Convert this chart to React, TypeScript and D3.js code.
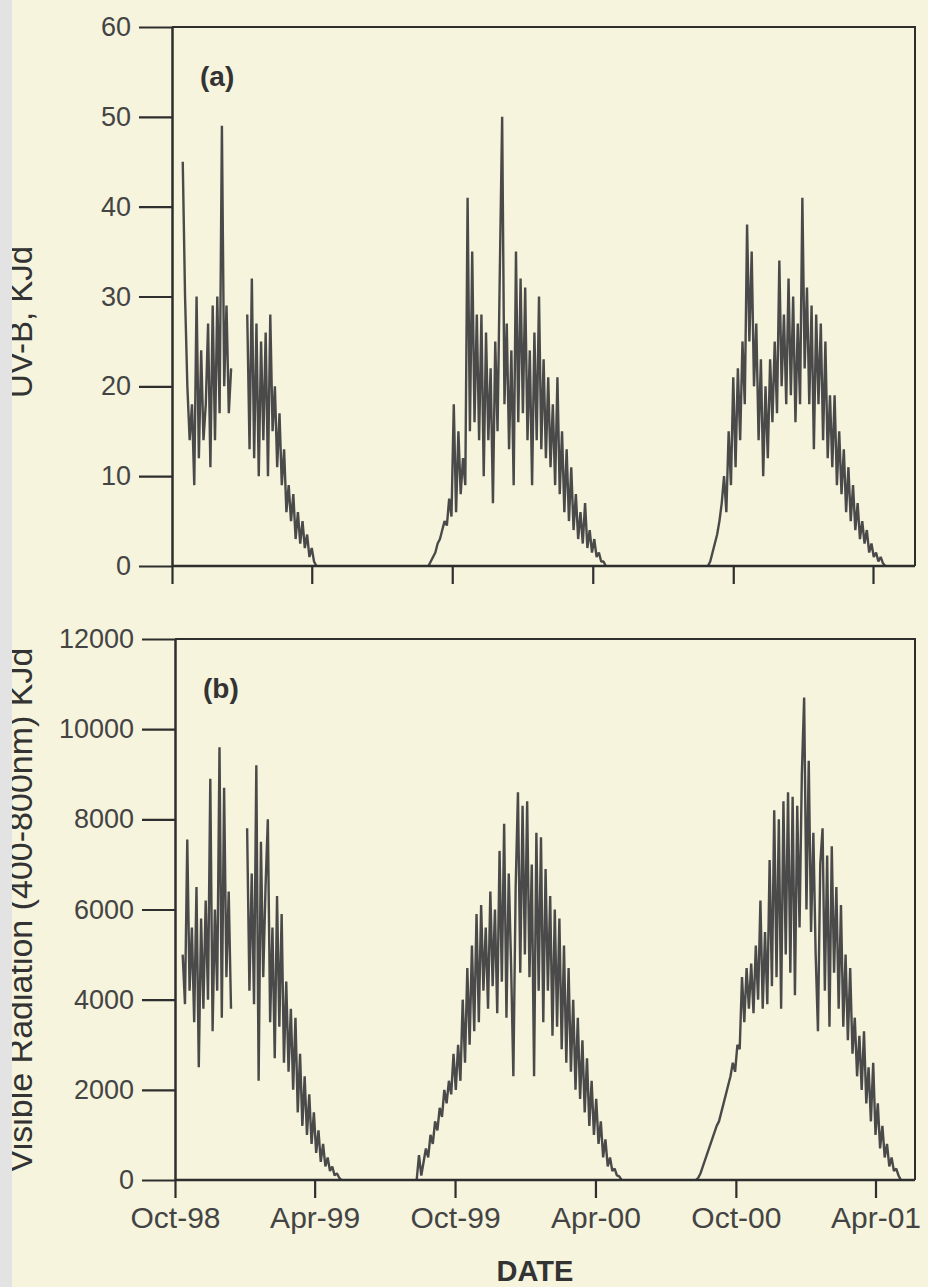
import { useEffect, useRef } from 'react';
import * as d3 from 'd3';

const STEP_DAYS = 3;

const uvStarts = [new Date(1998, 9, 15), new Date(1999, 7, 31), new Date(2000, 7, 29)];
const uvSeason1 = [
  45, 30, 20, 14, 18, 9, 30, 12, 24, 14, 18, 27, 11, 29, 14, 30, 17, 49, 20, 29, 17, 22,
  null, null, null, null, null, null,
  28, 13, 32, 12, 27, 10, 25, 14, 26, 10, 28, 15, 20, 11, 17, 9, 13, 6, 9, 5, 8, 3, 6, 2.5,
  5, 2, 3.5, 1, 2, 0.5, 0,
];
const uvSeason2 = [
  0, 0.5, 1, 1.5, 2.5, 3, 4, 5, 4.5, 7.5, 5.5, 18, 6, 15, 8, 12, 9, 41, 15, 35, 16, 28, 14,
  28, 10, 26, 14, 22, 7, 25, 15, 33, 50, 18, 27, 13, 24, 9, 35, 16, 32, 17, 31, 14, 24, 9,
  26, 14, 30, 13, 23, 12, 21, 11, 18, 9, 21, 8, 15, 6, 13, 5, 11, 4, 8, 3, 6, 2.5, 7, 2, 4,
  1.5, 3, 1, 1.5, 0.5, 0.5, 0,
];
const uvSeason3 = [
  0, 0.5, 1.5, 2.5, 3.5, 5, 7, 10, 6, 15, 9, 21, 11, 22, 14, 25, 18, 38, 25, 35, 20, 27, 14,
  23, 10, 20, 12, 23, 16, 25, 17, 34, 20, 28, 18, 32, 19, 30, 16, 27, 18, 41, 22, 31, 18, 29,
  13, 28, 18, 27, 14, 25, 12, 19, 11, 19, 9, 15, 8, 13, 6, 11, 5, 9, 4, 7, 3, 5, 2.5, 4, 1.5,
  2.5, 1, 1.5, 0.5, 1, 0.3, 0,
];

const visStarts = [new Date(1998, 9, 11), new Date(1999, 7, 12), new Date(2000, 7, 10)];
const visSeason1 = [
  5000, 3900, 7550, 4200, 5600, 3500, 6500, 2500, 5800, 3800, 6200, 4000, 8900, 3300, 6000,
  4200, 9600, 3600, 8700, 4500, 6400, 3800,
  null, null, null, null, null, null,
  7800, 4200, 6800, 3900, 9200, 2200, 7500, 4500, 6500, 8000, 3500, 5600, 2700, 6300, 3400,
  5900, 2600, 4400, 2400, 3800, 2000, 3600, 1500, 2800, 1200, 2300, 1000, 1900, 800, 1500,
  600, 1100, 400, 800, 300, 500, 200, 300, 100, 150, 50, 0,
];
const visSeason2 = [
  0, 550, 100, 400, 700, 500, 1000, 800, 1300, 1100, 1600, 1400, 2000, 1700, 2200, 1900, 2800,
  2000, 3000, 2200, 4000, 2600, 4700, 3000, 5200, 3300, 5900, 3500, 6100, 4200, 5600, 3800,
  6400, 4300, 6000, 3700, 7300, 4400, 7900, 3600, 6800, 4800, 2300, 6500, 8600, 4600, 8300,
  5000, 8400, 4500, 7000, 2300, 7700, 4200, 7600, 3500, 6900, 4200, 6300, 3200, 6000, 3400,
  5800, 2900, 5200, 2600, 4700, 2400, 4000, 2000, 3600, 1800, 3100, 1500, 2700, 1200, 2200,
  1000, 1800, 800, 1300, 500, 900, 300, 500, 200, 250, 100, 80, 0,
];
const visSeason3 = [
  0, 50, 150, 300, 450, 600, 750, 900, 1050, 1200, 1300, 1500, 1700, 1900, 2100, 2300, 2600,
  2400, 3000, 2900, 4500, 3500, 4700, 3800, 4800, 3700, 5200, 4000, 6200, 3800, 5500, 3900,
  7100, 4300, 8200, 4500, 8000, 3800, 8400, 5000, 8600, 4600, 8500, 4100, 8300, 5600, 9000,
  10700, 6000, 9300, 5500, 7700, 5000, 3300, 7000, 7800, 4200, 7200, 3400, 7400, 4600, 6500,
  3800, 6100, 3400, 5000, 3100, 4700, 2800, 3600, 2300, 3200, 2000, 3300, 1700, 2500, 1300,
  2600, 1000, 1700, 700, 1200, 500, 800, 300, 500, 200, 250, 100, 0,
];

const xTickDates = [
  new Date(1998, 9, 1),
  new Date(1999, 3, 1),
  new Date(1999, 9, 1),
  new Date(2000, 3, 1),
  new Date(2000, 9, 1),
  new Date(2001, 3, 1),
];
const uvTicks = [0, 10, 20, 30, 40, 50, 60];
const visTicks = [0, 2000, 4000, 6000, 8000, 10000, 12000];

const BG = '#f6f4dc';
const INK = '#2e2e2e';
const TEXT = '#444444';
const DATA = '#4a4a4a';
const FONT = '"Liberation Sans", Arial, Helvetica, sans-serif';

const toPoints = (start, values) =>
  values.map((v, i) => ({ date: d3.timeDay.offset(start, i * STEP_DAYS), v }));

const App = () => {
  const svgRef = useRef(null);

  useEffect(() => {
    const svg = d3.select(svgRef.current);
    svg.selectAll('*').remove();

    svg.append('rect').attr('width', 928).attr('height', 1287).attr('fill', BG);

    const drawPanel = (opts) => {
      const { box, yMax, yTicks, seasons, starts, label, title, titleY, showLabels } = opts;
      const x = d3
        .scaleTime()
        .domain([xTickDates[0], xTickDates[xTickDates.length - 1]])
        .range([box.left, box.axisEnd]);
      const y = d3.scaleLinear().domain([0, yMax]).range([box.bottom, box.top]);

      const g = svg.append('g');

      // data
      const line = d3
        .line()
        .defined((d) => d.v != null)
        .x((d) => x(d.date))
        .y((d) => y(d.v));
      seasons.forEach((vals, k) => {
        g.append('path')
          .datum(toPoints(starts[k], vals))
          .attr('fill', 'none')
          .attr('stroke', DATA)
          .attr('stroke-width', 2.4)
          .attr('stroke-linejoin', 'bevel')
          .attr('d', line);
      });

      // frame (top + right)
      g.append('path')
        .attr('d', `M${box.left},${box.top}H${box.right}V${box.bottom}`)
        .attr('fill', 'none')
        .attr('stroke', INK)
        .attr('stroke-width', 2);

      // y axis
      const yAxis = g
        .append('g')
        .attr('transform', `translate(${box.left},0)`)
        .call(
          d3
            .axisLeft(y)
            .tickValues(yTicks)
            .tickSize(33)
            .tickPadding(8)
            .tickSizeOuter(0)
            .tickFormat(d3.format('d'))
        );
      yAxis.select('.domain').attr('stroke', INK).attr('stroke-width', 2.5);
      yAxis.selectAll('.tick line').attr('stroke', INK).attr('stroke-width', 2.2);
      yAxis
        .selectAll('.tick text')
        .attr('fill', TEXT)
        .style('font-family', FONT)
        .style('font-size', '27px');

      // x axis
      const xAxis = g
        .append('g')
        .attr('transform', `translate(0,${box.bottom})`)
        .call(
          d3
            .axisBottom(x)
            .tickValues(xTickDates)
            .tickSize(18)
            .tickPadding(9)
            .tickSizeOuter(0)
            .tickFormat(showLabels ? d3.timeFormat('%b-%y') : () => '')
        );
      xAxis
        .select('.domain')
        .attr('d', `M${box.left},0H${box.right}`)
        .attr('stroke', INK)
        .attr('stroke-width', 2.5);
      xAxis.selectAll('.tick line').attr('stroke', INK).attr('stroke-width', 2.2);
      xAxis
        .selectAll('.tick text')
        .attr('fill', TEXT)
        .style('font-family', FONT)
        .style('font-size', '30px');

      // panel letter
      g.append('text')
        .attr('x', box.left + 28)
        .attr('y', box.top + 59)
        .attr('fill', '#333')
        .style('font-family', FONT)
        .style('font-size', '28px')
        .style('font-weight', 'bold')
        .text(label);

      // axis title (partly hidden under the scan margin)
      g.append('text')
        .attr('transform', `translate(32,${titleY}) rotate(-90)`)
        .attr('text-anchor', 'middle')
        .attr('fill', '#333')
        .style('font-family', FONT)
        .style('font-size', opts.titleSize)
        .text(title);
    };

    drawPanel({
      box: { left: 172, right: 915, top: 27, bottom: 566, axisEnd: 873 },
      yMax: 60,
      yTicks: uvTicks,
      seasons: [uvSeason1, uvSeason2, uvSeason3],
      starts: uvStarts,
      label: '(a)',
      title: 'UV-B, KJd',
      titleY: 322,
      titleSize: '33px',
      showLabels: false,
    });

    drawPanel({
      box: { left: 175, right: 915, top: 639, bottom: 1180, axisEnd: 875.5 },
      yMax: 12000,
      yTicks: visTicks,
      seasons: [visSeason1, visSeason2, visSeason3],
      starts: visStarts,
      label: '(b)',
      title: 'Visible Radiation (400-800nm) KJd',
      titleY: 910,
      titleSize: '34px',
      showLabels: true,
    });

    svg
      .append('text')
      .attr('x', 535)
      .attr('y', 1281)
      .attr('text-anchor', 'middle')
      .attr('fill', '#333')
      .style('font-family', FONT)
      .style('font-size', '29px')
      .style('font-weight', 'bold')
      .text('DATE');

    // grey scanner margin on the left edge
    svg.append('rect').attr('x', 0).attr('y', 0).attr('width', 12).attr('height', 1287).attr('fill', '#e3e3e3');
  }, []);

  return (
    <svg
      ref={svgRef}
      width={928}
      height={1287}
      style={{ position: 'absolute', left: 0, top: 0, display: 'block' }}
    />
  );
};

export default App;
